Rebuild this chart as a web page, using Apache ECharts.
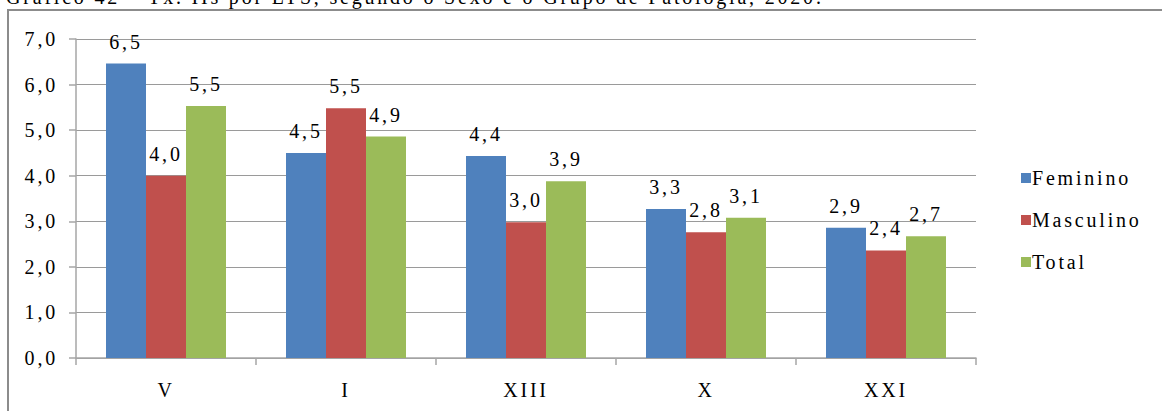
<!DOCTYPE html>
<html>
<head>
<meta charset="utf-8">
<script src="https://cdn.jsdelivr.net/npm/echarts@6/dist/echarts.min.js"></script>
<style>
html,body{margin:0;padding:0;background:#fff;}
#chart{width:1162px;height:411px;}
#chart svg text{letter-spacing:2.8px;font-family:'Liberation Serif',serif !important;}
</style>
</head>
<body>
<div id="chart"></div>
<script>
var titleText = 'Gráfico 42 – Tx. IIs por LTS, segundo o Sexo e o Grupo de Patologia, 2020.';
var categories = ['V', 'I', 'XIII', 'X', 'XXI'];
var seriesNames = ['Feminino', 'Masculino', 'Total'];
var feminino = [6.46, 4.50, 4.43, 3.27, 2.86];
var masculino = [4.00, 5.48, 2.98, 2.76, 2.36];
var total = [5.53, 4.86, 3.88, 3.08, 2.67];
var yTicks = [0, 1, 2, 3, 4, 5, 6, 7];
var colors = ['#4F81BD', '#C0504D', '#9BBB59'];

var font = 'Liberation Serif';
var chart = echarts.init(document.getElementById('chart'), null, {renderer: 'svg'});
function fmt(v){ return v.toFixed(1).replace('.', ','); }
function mk(name, data, color){
  return {
    name: name, type: 'bar', data: data, barWidth: 40, barGap: '0%',
    itemStyle: {color: color},
    label: {show: true, position: 'top', distance: 12, color: '#000',
      fontFamily: font, fontSize: 20,
      formatter: function(p){ return fmt(p.value); }}
  };
}
chart.setOption({
  animation: false,
  backgroundColor: '#fff',
  graphic: [
    {type: 'rect', shape: {x: 8, y: 10, width: 1200, height: 450},
     style: {fill: 'none', stroke: '#8c8c8c', lineWidth: 2}, z: -1},
    {type: 'text', left: 6, top: -13,
     style: {text: titleText, fontFamily: font, fontSize: 20, fill: '#000'}}
  ],
  grid: {left: 76, right: 186, top: 39, bottom: 53},
  legend: {
    orient: 'vertical', left: 1016, top: 163,
    itemWidth: 10, itemHeight: 10, itemGap: 22,
    icon: 'rect',
    textStyle: {fontFamily: font, fontSize: 20, color: '#000', padding: [0,0,0,-4]},
    data: seriesNames
  },
  xAxis: {
    type: 'category', data: categories,
    axisLine: {lineStyle: {color: '#a6a6a6', width: 1.5}},
    axisTick: {show: true, length: 7, lineStyle: {color: '#a6a6a6', width: 1.5}},
    axisLabel: {color: '#000', fontFamily: font, fontSize: 20, margin: 22}
  },
  yAxis: {
    type: 'value', min: yTicks[0], max: yTicks[yTicks.length-1], interval: 1,
    axisLine: {show: true, lineStyle: {color: '#a6a6a6', width: 1.5}},
    axisTick: {show: true, length: 7, lineStyle: {color: '#a6a6a6', width: 1.5}},
    splitLine: {lineStyle: {color: '#9a9a9a', width: 1}},
    axisLabel: {color: '#000', fontFamily: font, fontSize: 20, margin: 18,
      formatter: function(v){ return fmt(v); }}
  },
  series: [
    mk(seriesNames[0], feminino, colors[0]),
    mk(seriesNames[1], masculino, colors[1]),
    mk(seriesNames[2], total, colors[2])
  ]
});
</script>
</body>
</html>
